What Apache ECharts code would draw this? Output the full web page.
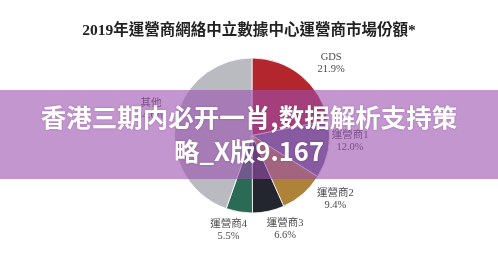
<!DOCTYPE html>
<html>
<head>
<meta charset="utf-8">
<script src="https://cdn.jsdelivr.net/npm/echarts@6/dist/echarts.min.js"></script>
<style>
  html, body { margin: 0; padding: 0; background: #fff; }
  #chart { width: 498px; height: 271px; }
</style>
</head>
<body>
<div id="chart"></div>
<script>
// Market share of carrier-neutral data centre operators, 2019 (%)
const categories = ['GDS', '運營商1', '運營商2', '運營商3', '運營商4', '其他'];
const shares = [21.9, 12.0, 9.4, 6.6, 5.5, 44.6];
const sliceColors = ['#B3262E', '#6A6A8C', '#AE8339', '#23262F', '#2B6A55', '#B9BBC0'];

const titleText = '2019年運營商網絡中立數據中心運營商市場份額*';
const bannerText = '香港三期内必开一肖,数据解析支持策略_X版9.167';

// small per-label nudges so labels sit where they read best around the pie
const labelNudge = [[11, 5], [0, -12], [14, -11], [7, -7], [-2, -3], [2, -9]];

const chart = echarts.init(document.getElementById('chart'), null, { renderer: 'canvas' });

chart.setOption({
  animation: false,
  backgroundColor: '#ffffff',
  title: {
    text: titleText,
    left: 'center',
    top: 18,
    textStyle: {
      fontFamily: '"Liberation Serif", "Noto Sans CJK TC", serif',
      fontWeight: 'bold',
      fontSize: 15.5,
      color: '#222222'
    }
  },
  series: [{
    type: 'pie',
    center: [252, 135.5],
    radius: 77.5,
    startAngle: 90,
    clockwise: true,
    silent: true,
    itemStyle: { borderColor: '#ffffff', borderWidth: 0.8 },
    label: {
      show: true,
      position: 'outside',
      fontFamily: '"Liberation Serif", "Noto Sans CJK TC", serif',
      fontSize: 10.5,
      lineHeight: 12,
      color: '#4a4a4a',
      formatter: p => p.name + '\n' + shares[p.dataIndex].toFixed(1) + '%'
    },
    labelLine: { show: false, length: 22, length2: 0 },
    labelLayout: p => ({
      align: 'center',
      verticalAlign: 'middle',
      dx: labelNudge[p.dataIndex][0],
      dy: labelNudge[p.dataIndex][1]
    }),
    data: categories.map((name, i) => ({
      name: name,
      value: shares[i],
      itemStyle: { color: sliceColors[i] }
    }))
  }],
  graphic: [
    {
      type: 'rect',
      z: 100,
      shape: { x: 0, y: 90, width: 498, height: 89 },
      style: { fill: 'rgba(155, 80, 175, 0.6)' }
    },
    {
      type: 'text',
      z: 101,
      x: 249,
      y: 134.5,
      style: {
        text: bannerText,
        width: 428,
        overflow: 'break',
        align: 'center',
        verticalAlign: 'middle',
        fontFamily: '"Noto Sans CJK SC", sans-serif',
        fontWeight: 'bold',
        fontSize: 25.5,
        lineHeight: 34,
        fill: '#ffffff',
        textShadowColor: 'rgba(80, 30, 90, 0.35)',
        textShadowBlur: 2
      }
    }
  ]
});
</script>
</body>
</html>
